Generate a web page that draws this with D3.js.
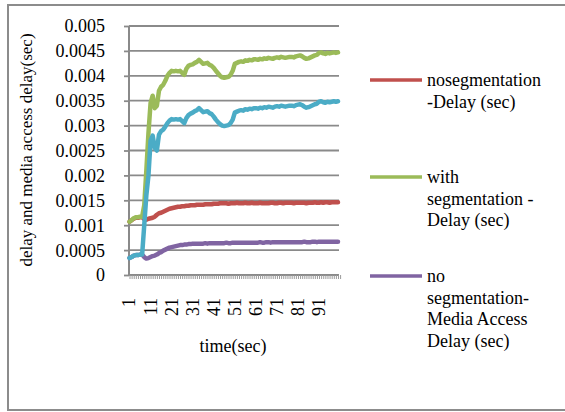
<!DOCTYPE html>
<html><head><meta charset="utf-8">
<script src="https://cdnjs.cloudflare.com/ajax/libs/d3/7.8.5/d3.min.js"></script>
<style>html,body{margin:0;padding:0;background:#fff;}svg{display:block;}</style>
</head><body>
<script>
const categories = d3.range(1, 101);
const tickLabels = ["1","11","21","31","41","51","61","71","81","91"];
const yTicks = [0,0.0005,0.001,0.0015,0.002,0.0025,0.003,0.0035,0.004,0.0045,0.005];

const noSegDelay = [0.00107,0.00110,0.00113,0.00115,0.00115,0.00116,0.00116,0.00112,0.00111,0.00113,
0.00114,0.00115,0.00117,0.00121,0.00124,0.00125,0.00127,0.00129,0.00131,0.00133,
0.00134,0.00135,0.00136,0.00137,0.00137,0.00138,0.00138,0.00139,0.00139,0.00140,
0.00140,0.00140,0.00141,0.00141,0.00141,0.00141,0.00142,0.00142,0.00142,0.00142,
0.00143,0.00143,0.00143,0.00144,0.00144,0.00144,0.00144,0.00143,0.00144,0.00144,
0.00144,0.00145,0.00144,0.00144,0.00144,0.00145,0.00144,0.00144,0.00145,0.00144,
0.00144,0.00144,0.00145,0.00144,0.00144,0.00144,0.00144,0.00145,0.00145,0.00144,
0.00144,0.00145,0.00145,0.00144,0.00145,0.00145,0.00145,0.00145,0.00144,0.00145,
0.00145,0.00145,0.00145,0.00145,0.00144,0.00145,0.00145,0.00145,0.00146,0.00145,
0.00145,0.00146,0.00145,0.00146,0.00146,0.00145,0.00146,0.00146,0.00146,0.00146];

const withSegDelay = [0.00107,0.00110,0.00114,0.00116,0.00116,0.00117,0.00117,0.00140,0.00210,0.00285,
0.00345,0.00360,0.00335,0.00340,0.00370,0.00378,0.00382,0.00390,0.00400,0.00406,
0.00410,0.00409,0.00410,0.00409,0.00410,0.00406,0.00402,0.00414,0.00420,0.00422,
0.00423,0.00426,0.00428,0.00432,0.00428,0.00424,0.00425,0.00426,0.00422,0.00420,
0.00416,0.00410,0.00405,0.00400,0.00397,0.00396,0.00397,0.00398,0.00402,0.00410,
0.00424,0.00426,0.00428,0.00429,0.00428,0.00431,0.00430,0.00432,0.00431,0.00433,
0.00433,0.00432,0.00434,0.00433,0.00435,0.00434,0.00436,0.00435,0.00434,0.00436,
0.00437,0.00436,0.00438,0.00437,0.00436,0.00437,0.00438,0.00438,0.00437,0.00439,
0.00440,0.00441,0.00439,0.00436,0.00434,0.00435,0.00437,0.00439,0.00441,0.00442,
0.00446,0.00447,0.00445,0.00444,0.00446,0.00445,0.00446,0.00447,0.00446,0.00447];

const noSegMediaAccess = [0.00034,0.00036,0.00039,0.00040,0.00040,0.00041,0.00041,0.00036,0.00033,0.00034,
0.00036,0.00038,0.00039,0.00041,0.00044,0.00046,0.00049,0.00051,0.00053,0.00055,
0.00056,0.00057,0.00058,0.00059,0.00060,0.00060,0.00061,0.00061,0.00062,0.00062,
0.00063,0.00063,0.00063,0.00063,0.00063,0.00063,0.00064,0.00063,0.00064,0.00064,
0.00064,0.00064,0.00064,0.00064,0.00064,0.00064,0.00065,0.00064,0.00064,0.00065,
0.00065,0.00065,0.00065,0.00065,0.00065,0.00065,0.00065,0.00065,0.00065,0.00065,
0.00065,0.00065,0.00066,0.00065,0.00065,0.00066,0.00066,0.00065,0.00066,0.00066,
0.00066,0.00066,0.00066,0.00066,0.00066,0.00066,0.00066,0.00066,0.00066,0.00066,
0.00066,0.00066,0.00066,0.00067,0.00066,0.00066,0.00066,0.00067,0.00067,0.00066,
0.00067,0.00067,0.00067,0.00067,0.00067,0.00067,0.00067,0.00067,0.00067,0.00067];

const withSegMediaAccess = [0.00034,0.00036,0.00039,0.00040,0.00040,0.00041,0.00041,0.00100,0.00160,0.00200,
0.00270,0.00280,0.00255,0.00250,0.00282,0.00289,0.00292,0.00298,0.00305,0.00310,
0.00313,0.00312,0.00313,0.00312,0.00313,0.00309,0.00305,0.00315,0.00321,0.00324,
0.00326,0.00329,0.00331,0.00335,0.00331,0.00327,0.00328,0.00329,0.00325,0.00323,
0.00318,0.00312,0.00307,0.00303,0.00300,0.00299,0.00300,0.00301,0.00305,0.00312,
0.00326,0.00328,0.00330,0.00331,0.00330,0.00333,0.00332,0.00334,0.00333,0.00335,
0.00335,0.00334,0.00336,0.00335,0.00337,0.00336,0.00338,0.00337,0.00336,0.00338,
0.00339,0.00338,0.00340,0.00339,0.00338,0.00339,0.00340,0.00340,0.00339,0.00341,
0.00342,0.00343,0.00341,0.00338,0.00336,0.00337,0.00339,0.00341,0.00343,0.00344,
0.00348,0.00349,0.00347,0.00346,0.00348,0.00347,0.00348,0.00349,0.00348,0.00349];

const seriesNames = ["nosegmentation -Delay (sec)", "with segmentation -Delay (sec)", "no segmentation-Media Access Delay (sec)", "with segmentation-Media Access Delay (sec)"];
const legendLines = [["nosegmentation","-Delay (sec)"],["with","segmentation -","Delay (sec)"],["no","segmentation-","Media Access","Delay (sec)"]];

const series = [
  {name: seriesNames[0], values: noSegDelay, color: "#C0504D", legend: 0},
  {name: seriesNames[1], values: withSegDelay, color: "#9BBB59", legend: 1},
  {name: seriesNames[2], values: noSegMediaAccess, color: "#8064A2", legend: 2},
  {name: seriesNames[3], values: withSegMediaAccess, color: "#4BACC6", legend: -1}
];

const W = 565, H = 412;
const FONT = "'Liberation Serif','Times New Roman',serif";
const svg = d3.select("body").append("svg").attr("width", W).attr("height", H);

svg.append("rect").attr("x", 8).attr("y", 5).attr("width", 600).attr("height", 405)
  .attr("fill", "#fff").attr("stroke", "#8c8c8c").attr("stroke-width", 2);

const x = d3.scalePoint().domain(categories).range([129.5, 338]);
const y = d3.scaleLinear().domain([0, 0.005]).range([275, 26]);

// gridlines
svg.append("g").selectAll("line").data(yTicks.filter(d => d > 0)).join("line")
  .attr("x1", 129).attr("x2", 339).attr("y1", d => y(d)).attr("y2", d => y(d))
  .attr("stroke", "#8a8a8a").attr("stroke-width", 1.8);

// y axis
const yAxis = d3.axisLeft(y).tickValues(yTicks).tickSize(5).tickPadding(19)
  .tickFormat(d => d === 0 ? "0" : String(+d.toFixed(4)));
const gy = svg.append("g").attr("transform", "translate(129,0)").call(yAxis);
gy.select(".domain").attr("stroke", "#8a8a8a").attr("stroke-width", 2).attr("d", `M0,${y(0.005)}V${y(0)}`);
gy.selectAll(".tick line").attr("stroke", "#8a8a8a").attr("stroke-width", 1.8);
gy.selectAll(".tick text").attr("font-family", FONT).attr("font-size", 18).attr("fill", "#000").attr("dy", "0.33em");

// x axis
const step = x.step();
const xBand = d3.scaleLinear().domain([0, categories.length]).range([129.5, 129.5 + step * categories.length]);
const gx = svg.append("g").attr("transform", `translate(0,${y(0)})`);
gx.call(d3.axisBottom(xBand).tickValues(d3.range(0, categories.length + 1)).tickSize(4).tickFormat(""));
gx.select(".domain").attr("stroke", "#8a8a8a").attr("stroke-width", 2).attr("d", `M129,0H339`);
gx.selectAll(".tick line").attr("stroke", "#9a9a9a").attr("stroke-width", 1);

// x tick labels (rotated)
svg.append("g").selectAll("text").data(tickLabels).join("text")
  .attr("transform", d => `translate(${x(+d)},298) rotate(-90)`)
  .attr("text-anchor", "end").attr("dy", "0.33em")
  .attr("font-family", FONT).attr("font-size", 18).attr("fill", "#000")
  .text(d => d);

// lines
const line = d3.line().x((d, i) => x(categories[i])).y(d => y(d));
svg.append("g").selectAll("path").data(series).join("path")
  .attr("d", s => line(s.values)).attr("fill", "none")
  .attr("stroke", s => s.color).attr("stroke-width", 4.5)
  .attr("stroke-linejoin", "round").attr("stroke-linecap", "round");

// axis titles
svg.append("text").attr("transform", "translate(32,150) rotate(-90)")
  .attr("text-anchor", "middle").attr("font-family", FONT).attr("font-size", 17).attr("fill", "#000")
  .text("delay and media access delay(sec)");
svg.append("text").attr("x", 233).attr("y", 352)
  .attr("text-anchor", "middle").attr("font-family", FONT).attr("font-size", 18).attr("fill", "#000")
  .text("time(sec)");

// legend
const legendY = [80, 177, 276];
const lg = svg.append("g");
series.filter(s => s.legend >= 0).forEach(s => {
  const ly = legendY[s.legend];
  lg.append("line").attr("x1", 370).attr("x2", 422).attr("y1", ly).attr("y2", ly)
    .attr("stroke", s.color).attr("stroke-width", 3.5);
  const t = lg.append("text").attr("font-family", FONT).attr("font-size", 18).attr("fill", "#000");
  legendLines[s.legend].forEach((ln, k) => {
    t.append("tspan").attr("x", 427).attr("y", ly + 6 + k * 21.7).text(ln);
  });
});
</script>
</body></html>
